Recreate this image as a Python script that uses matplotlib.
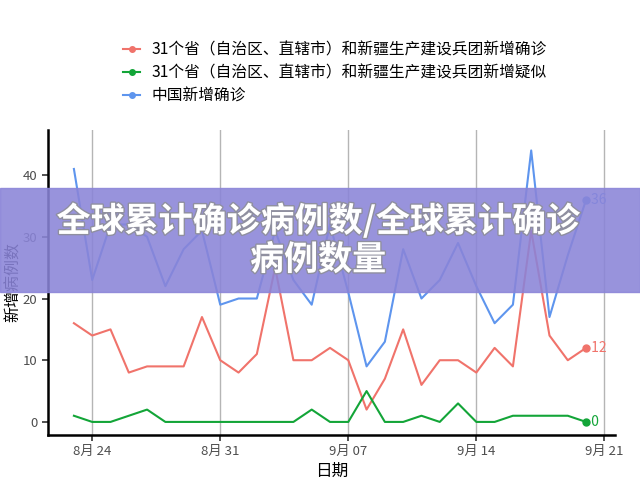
import numpy as np
import pandas as pd
import matplotlib
matplotlib.use('Agg')
import matplotlib.pyplot as plt
import matplotlib.dates as mdates
from matplotlib.lines import Line2D
from matplotlib.patches import Rectangle
import matplotlib.patheffects as pe

plt.rcParams['font.family'] = ['Noto Sans CJK SC', 'DejaVu Sans']

dates = pd.date_range('2020-08-23', '2020-09-20', freq='D')
confirmed_31 = [16, 14, 15, 8, 9, 9, 9, 17, 10,
                8, 11, 25, 10, 10, 12, 10, 2, 7, 15, 6, 10, 10, 8, 12, 9, 31, 14, 10, 12]
suspected_31 = [1, 0, 0, 1, 2, 0, 0, 0, 0,
                0, 0, 0, 0, 2, 0, 0, 5, 0, 0, 1, 0, 3, 0, 0, 1, 1, 1, 1, 0]
china_new = [41, 23, 32, 32, 30, 22, 28, 31, 19,
             20, 20, 31, 23, 19, 32, 21, 9, 13, 28, 20, 23, 29, 22, 16, 19, 44, 17, 27, 36]
labels = ['31个省（自治区、直辖市）和新疆生产建设兵团新增确诊',
          '31个省（自治区、直辖市）和新疆生产建设兵团新增疑似',
          '中国新增确诊']
colors = ['#F0736B', '#13A538', '#5E95EE']
tick_dates = pd.to_datetime(['2020-08-24', '2020-08-31', '2020-09-07', '2020-09-14', '2020-09-21'])
tick_labels = ['8月 24', '8月 31', '9月 07', '9月 14', '9月 21']

fig = plt.figure(figsize=(6.4, 4.8), dpi=100)
ax = fig.add_axes([0.075, 0.094, 0.886, 0.635])

series = [confirmed_31, suspected_31, china_new]
for vals, c in zip(series, colors):
    ax.plot(dates, vals, color=c, lw=1.5, zorder=3)
    ax.plot(dates[-1], vals[-1], 'o', color=c, ms=5, zorder=4)
    ax.text(dates[-1] + pd.Timedelta(hours=2), vals[-1], ' ' + str(vals[-1]),
            color=c, fontsize=10, va='center', ha='left', zorder=4)

ax.set_xlim(pd.Timestamp('2020-08-21 14:00'), pd.Timestamp('2020-09-21 14:00'))
ax.set_ylim(-2.1, 47.3)
ax.set_xticks(tick_dates)
ax.set_xticklabels(tick_labels)
ax.set_yticks([0, 10, 20, 30, 40])
ax.tick_params(colors='#333333', labelcolor='#4d4d4d', labelsize=9.5, length=4, width=1.2)
ax.grid(axis='x', color='#b5b5b5', lw=1)
ax.set_axisbelow(True)
for s in ['top', 'right']:
    ax.spines[s].set_visible(False)
for s in ['left', 'bottom']:
    ax.spines[s].set_linewidth(1.8)
ax.set_xlabel('日期', fontsize=12, labelpad=3)
ax.set_ylabel('新增病例数', fontsize=11.5, labelpad=1)

handles = [Line2D([0], [0], color=c, lw=1.5, marker='o', ms=4) for c in colors]
fig.legend(handles, labels, loc='upper left', bbox_to_anchor=(0.17, 0.942),
           frameon=False, fontsize=11.3, handlelength=1.1, labelspacing=0.38,
           handletextpad=0.7)

fig.patches.append(Rectangle((0, 0.392), 1, 0.217, transform=fig.transFigure,
                             color='#8a84d8', alpha=0.88, zorder=10))
fig.text(0.497, 0.5, '全球累计确诊病例数/全球累计确诊\n病例数量', color='white',
         fontsize=24.5, fontweight='heavy', ha='center', va='center',
         multialignment='center', linespacing=1.12, zorder=11,
         path_effects=[pe.withStroke(linewidth=2, foreground='#8f8f9f')])

fig.savefig('out.png', dpi=100)
